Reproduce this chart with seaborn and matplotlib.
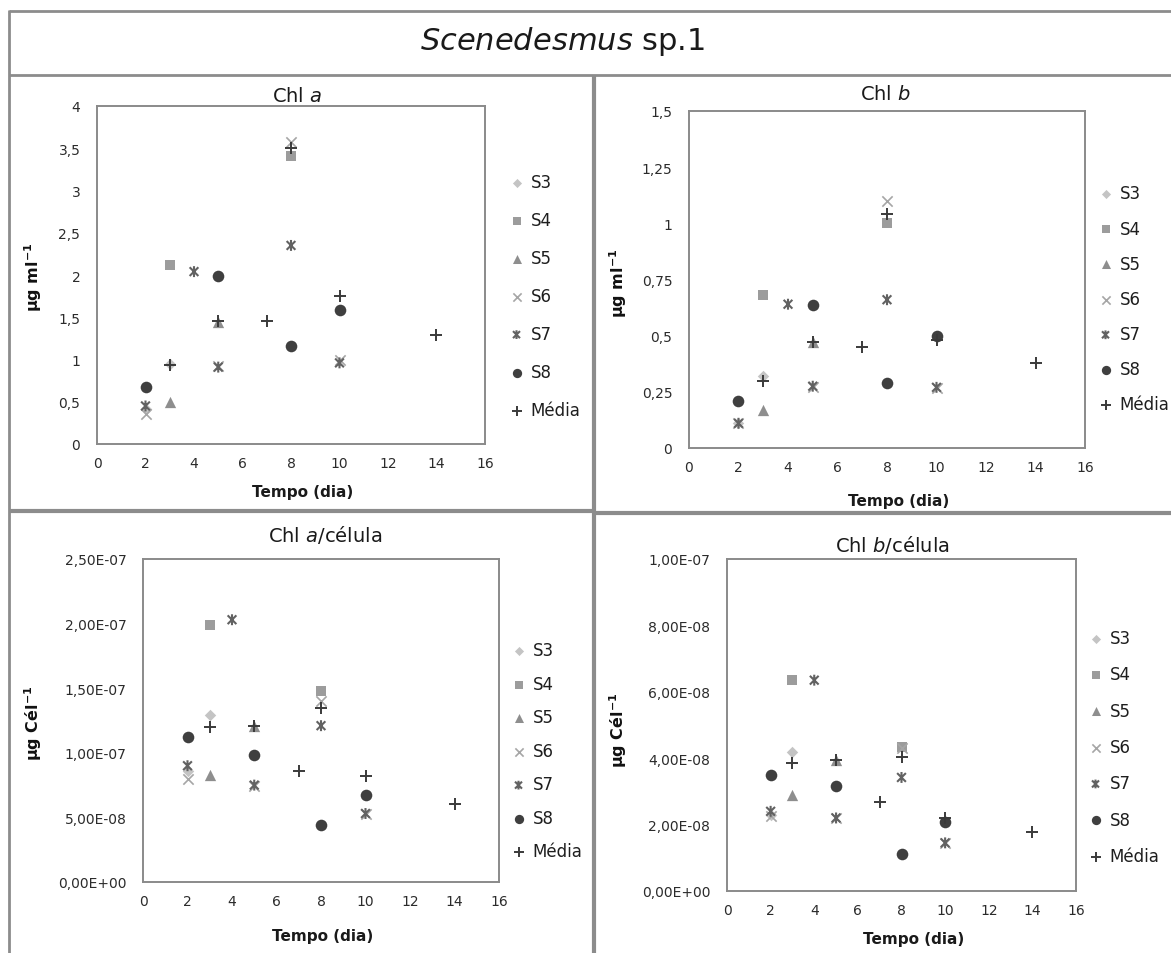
import matplotlib
matplotlib.use("Agg")
import matplotlib.pyplot as plt
from matplotlib.lines import Line2D
from matplotlib.path import Path
import seaborn as sns
import pandas as pd

# ---- data: sampling day and measured value for each strain ----
SERIES = ["S3", "S4", "S5", "S6", "S7", "S8", "Média"]

DAYS_S3 = [2, 3]
DAYS_S4 = [3, 8]
DAYS_S5 = [3, 5]
DAYS_S6 = [2, 5, 8, 10]
DAYS_S7 = [2, 4, 5, 8, 10]
DAYS_S8 = [2, 5, 8, 10]
DAYS_MEDIA = [3, 5, 7, 8, 10, 14]

# Chl a (µg ml-1)
CHLA_S3 = [0.42, 0.95]
CHLA_S4 = [2.12, 3.41]
CHLA_S5 = [0.50, 1.44]
CHLA_S6 = [0.35, 0.92, 3.57, 0.99]
CHLA_S7 = [0.45, 2.04, 0.91, 2.35, 0.96]
CHLA_S8 = [0.68, 1.99, 1.16, 1.59]
CHLA_MEDIA = [0.93, 1.46, 1.45, 3.50, 1.75, 1.29]

# Chl b (µg ml-1)
CHLB_S3 = [0.11, 0.32]
CHLB_S4 = [0.68, 1.00]
CHLB_S5 = [0.17, 0.47]
CHLB_S6 = [0.11, 0.27, 1.10, 0.265]
CHLB_S7 = [0.11, 0.64, 0.275, 0.66, 0.27]
CHLB_S8 = [0.21, 0.635, 0.29, 0.50]
CHLB_MEDIA = [0.30, 0.47, 0.45, 1.04, 0.48, 0.38]

# Chl a per cell (µg cél-1)
CHLA_CEL_S3 = [0.86e-7, 1.29e-7]
CHLA_CEL_S4 = [1.99e-7, 1.48e-7]
CHLA_CEL_S5 = [0.83e-7, 1.21e-7]
CHLA_CEL_S6 = [0.80e-7, 0.74e-7, 1.40e-7, 0.53e-7]
CHLA_CEL_S7 = [0.90e-7, 2.03e-7, 0.75e-7, 1.21e-7, 0.53e-7]
CHLA_CEL_S8 = [1.12e-7, 0.98e-7, 0.44e-7, 0.67e-7]
CHLA_CEL_MEDIA = [1.20e-7, 1.21e-7, 0.86e-7, 1.35e-7, 0.82e-7, 0.60e-7]

# Chl b per cell (µg cél-1)
CHLB_CEL_S3 = [2.30e-8, 4.20e-8]
CHLB_CEL_S4 = [6.35e-8, 4.35e-8]
CHLB_CEL_S5 = [2.88e-8, 3.95e-8]
CHLB_CEL_S6 = [2.25e-8, 2.20e-8, 4.30e-8, 1.45e-8]
CHLB_CEL_S7 = [2.40e-8, 6.35e-8, 2.20e-8, 3.42e-8, 1.45e-8]
CHLB_CEL_S8 = [3.48e-8, 3.15e-8, 1.10e-8, 2.07e-8]
CHLB_CEL_MEDIA = [3.85e-8, 3.95e-8, 2.67e-8, 4.05e-8, 2.20e-8, 1.77e-8]

X_TICKS = [0, 2, 4, 6, 8, 10, 12, 14, 16]
Y_TICKS_CHLA = [0, 0.5, 1, 1.5, 2, 2.5, 3, 3.5, 4]
Y_TICKS_CHLB = [0, 0.25, 0.5, 0.75, 1, 1.25, 1.5]
Y_TICKS_CHLA_CEL = [0, 5e-8, 1e-7, 1.5e-7, 2e-7, 2.5e-7]
Y_TICKS_CHLB_CEL = [0, 2e-8, 4e-8, 6e-8, 8e-8, 1e-7]

PANEL_TITLES = ["Chl $\\it{a}$", "Chl $\\it{b}$",
                "Chl $\\it{a}$/célula", "Chl $\\it{b}$/célula"]
Y_LABELS = ["µg ml$^{\\mathbf{-1}}$", "µg ml$^{\\mathbf{-1}}$",
            "µg Cél$^{\\mathbf{-1}}$", "µg Cél$^{\\mathbf{-1}}$"]
X_LABEL = "Tempo (dia)"
MAIN_TITLE = "$\\it{Scenedesmus}$ sp.1"

DAYS = [DAYS_S3, DAYS_S4, DAYS_S5, DAYS_S6, DAYS_S7, DAYS_S8, DAYS_MEDIA]
PANEL_VALUES = [
    [CHLA_S3, CHLA_S4, CHLA_S5, CHLA_S6, CHLA_S7, CHLA_S8, CHLA_MEDIA],
    [CHLB_S3, CHLB_S4, CHLB_S5, CHLB_S6, CHLB_S7, CHLB_S8, CHLB_MEDIA],
    [CHLA_CEL_S3, CHLA_CEL_S4, CHLA_CEL_S5, CHLA_CEL_S6, CHLA_CEL_S7,
     CHLA_CEL_S8, CHLA_CEL_MEDIA],
    [CHLB_CEL_S3, CHLB_CEL_S4, CHLB_CEL_S5, CHLB_CEL_S6, CHLB_CEL_S7,
     CHLB_CEL_S8, CHLB_CEL_MEDIA],
]
PANEL_YTICKS = [Y_TICKS_CHLA, Y_TICKS_CHLB, Y_TICKS_CHLA_CEL, Y_TICKS_CHLB_CEL]
PANEL_SCI = [False, False, True, True]

# ---- styling ----
sns.set_style("white")
plt.rcParams["font.family"] = ["DejaVu Sans"]
plt.rcParams["mathtext.fontset"] = "dejavusans"

W, H = 1171, 954

# "star" marker: an x crossed by a vertical bar
STAR = Path([(-1, -1), (1, 1), (-1, 1), (1, -1), (0, -1.25), (0, 1.25)],
            [Path.MOVETO, Path.LINETO, Path.MOVETO, Path.LINETO,
             Path.MOVETO, Path.LINETO])

STYLES = {
    "S3": dict(marker="D", s=34, color="#c4c4c4", linewidth=0),
    "S4": dict(marker="s", s=56, color="#9c9c9c", linewidth=0),
    "S5": dict(marker="^", s=66, color="#8e8e8e", linewidth=0),
    "S6": dict(marker="x", s=55, color="#a6a6a6", linewidth=1.2),
    "S7": dict(marker=STAR, s=62, color="#626262", facecolor="none",
               edgecolor="#626262", linewidth=1.5),
    "S8": dict(marker="o", s=70, color="#3f3f3f", linewidth=0),
    "Média": dict(marker="+", s=75, color="#3a3a3a", linewidth=1.4),
}

# axes boxes in pixels: left, top, right, bottom
BOXES = [(97, 107, 485, 445), (689, 112, 1085, 449),
         (143, 560, 499, 883), (727, 560, 1076, 892)]
# title (x, y), xlabel (x, y), ylabel (x, y) centres in pixels
TITLE_POS = [(297, 97), (886, 95), (325, 535), (892, 545)]
XLAB_POS = [(303, 493), (899, 502), (323, 937), (914, 940)]
YLAB_POS = [(33, 277), (618, 283), (33, 723), (618, 730)]
# legend: left x of handles, centre y, row spacing
LEG_POS = [(509, 297, 1.2), (1098, 300, 1.03), (511, 752, 0.93), (1088, 748, 1.1)]


def fmt_tick(v, sci):
    if sci:
        return f"{v:.2E}".replace(".", ",")
    return f"{v:g}".replace(".", ",")


fig = plt.figure(figsize=(W / 100, H / 100), dpi=100)
fig.patch.set_facecolor("white")

for i in range(4):
    l, t, r, b = BOXES[i]
    ax = fig.add_axes([l / W, 1 - b / H, (r - l) / W, (b - t) / H])
    aw, ah = r - l, b - t

    for name, days, vals in zip(SERIES, DAYS, PANEL_VALUES[i]):
        df = pd.DataFrame({"dia": days, "valor": vals})
        sns.scatterplot(data=df, x="dia", y="valor", ax=ax, label=name,
                        zorder=3, **STYLES[name])

    yt = PANEL_YTICKS[i]
    ax.set_xlim(0, 16)
    ax.set_ylim(yt[0], yt[-1])
    ax.set_xticks(X_TICKS)
    ax.set_xticklabels([str(v) for v in X_TICKS])
    ax.set_yticks(yt)
    ax.set_yticklabels([fmt_tick(v, PANEL_SCI[i]) for v in yt])
    ax.tick_params(axis="both", direction="out", length=5, width=1.2,
                   color="#8a8a8a", labelsize=10, labelcolor="#2b2b2b")
    ax.tick_params(axis="y", pad=7)
    ax.tick_params(axis="x", pad=3.5)
    for sp in ax.spines.values():
        sp.set_color("#8a8a8a")
        sp.set_linewidth(1.4)
        sp.set_visible(True)

    tx, ty = TITLE_POS[i]
    ax.text((tx - l) / aw, (b - ty) / ah, PANEL_TITLES[i], transform=ax.transAxes,
            ha="center", va="center", fontsize=14, color="#1a1a1a")

    ax.set_xlabel(X_LABEL, fontsize=11, fontweight="bold", color="#1a1a1a")
    xx, xy = XLAB_POS[i]
    ax.xaxis.set_label_coords((xx - l) / aw, (b - xy) / ah)
    ax.xaxis.label.set_va("center")

    ax.set_ylabel(Y_LABELS[i], fontsize=11.5, fontweight="bold", color="#111111")
    yx, yy = YLAB_POS[i]
    ax.yaxis.set_label_coords((yx - l) / aw, (b - yy) / ah)
    ax.yaxis.label.set_va("center")

    lx, ly, ls = LEG_POS[i]
    leg = ax.legend(loc="center left", bbox_to_anchor=((lx - l) / aw, (b - ly) / ah),
                    frameon=False, borderaxespad=0, borderpad=0, handlelength=0.9,
                    handletextpad=0.4, labelspacing=ls, fontsize=12,
                    markerscale=0.8, scatterpoints=1)
    for txt in leg.get_texts():
        txt.set_color("#1e1e1e")

# main title
fig.text(563 / W, 1 - 42 / H, MAIN_TITLE, ha="center", va="center",
         fontsize=22, color="#1a1a1a")


# panel frames
def frame_line(x0, y0, x1, y1, lw):
    fig.add_artist(Line2D([x0 / W, x1 / W], [1 - y0 / H, 1 - y1 / H],
                          transform=fig.transFigure, color="#8c8c8c",
                          linewidth=lw, solid_capstyle="butt"))


frame_line(9, 12, W, 12, 2.0)
frame_line(9, 11, 9, H, 2.0)
frame_line(9, 76, W, 76, 2.0)
frame_line(594, 76, 594, H, 3.0)
frame_line(9, 512, 594, 512, 3.0)
frame_line(594, 514, W, 514, 3.0)

fig.savefig("out.png", dpi=100)
